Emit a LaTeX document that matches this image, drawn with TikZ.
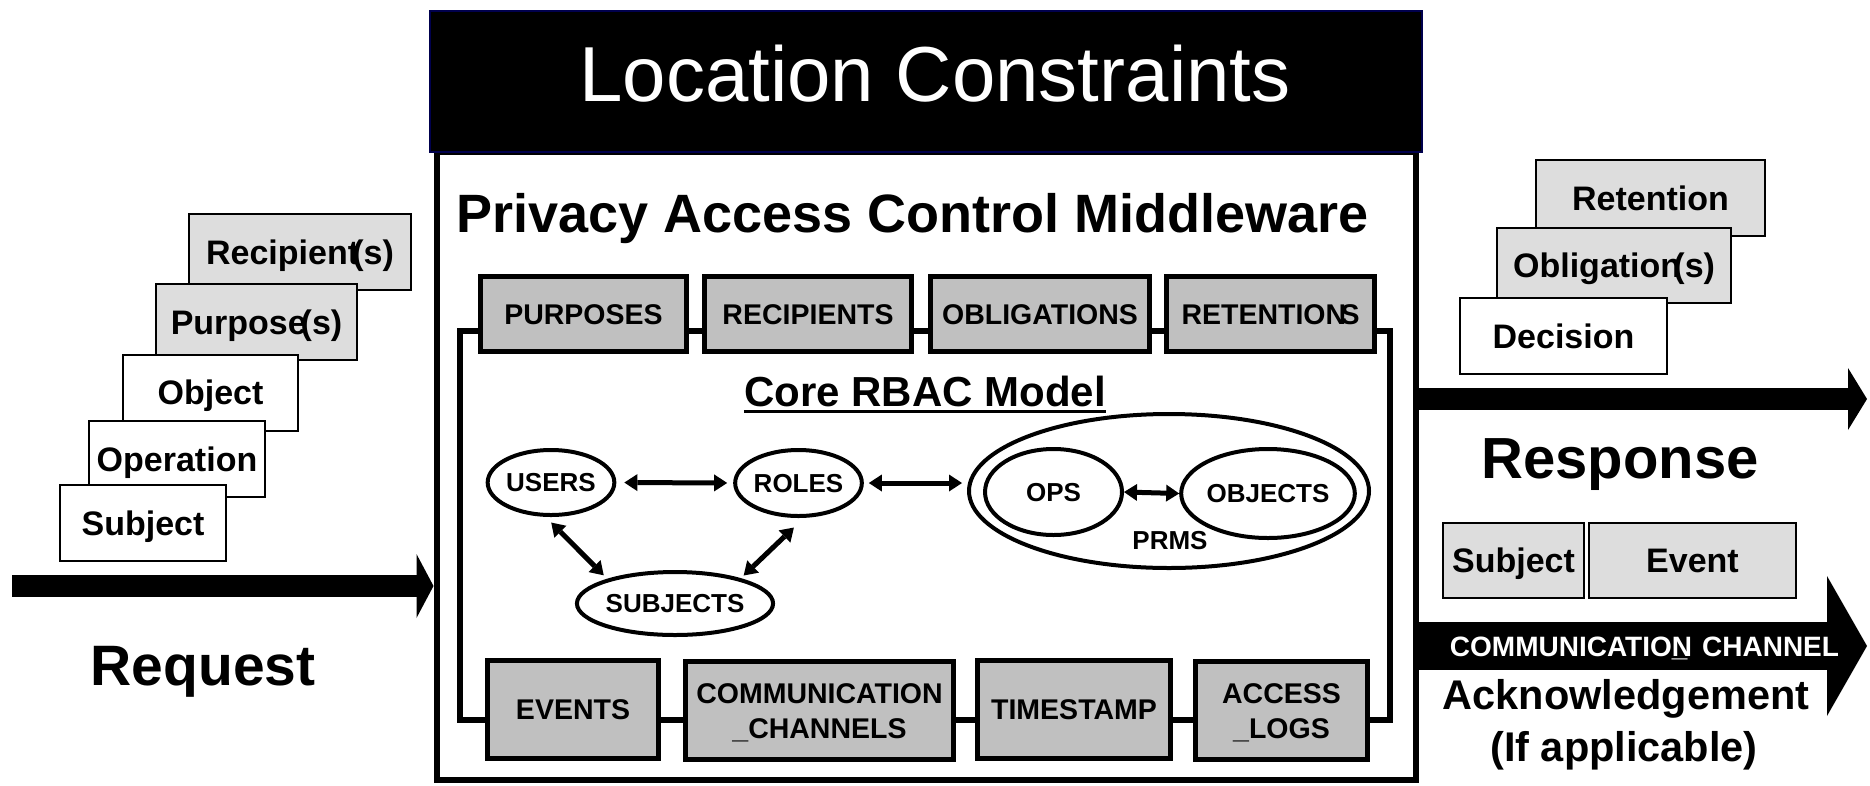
\documentclass[tikz,border=0pt]{standalone}
\usepackage{fontspec}
\setmainfont{Liberation Sans}
\usetikzlibrary{shapes.geometric,arrows.meta,calc}
\newcommand\fsz[1]{\fontsize{#1}{#1}\selectfont}
\definecolor{boxgray}{HTML}{C0C0C0}
\definecolor{cardgray}{HTML}{DDDDDD}
\definecolor{titlenavy}{HTML}{00004D}
\begin{document}
\begin{tikzpicture}[x=1pt,y=-1pt,
  card/.style={draw, line width=2pt, inner sep=0pt, minimum height=76pt,
    font=\bfseries\fsz{34}, text height=24.3pt, text depth=0pt},
  graycard/.style={card, fill=cardgray},
  whitecard/.style={card, fill=white},
  topbox/.style={draw, fill=boxgray, line width=5pt, inner sep=0pt, minimum height=75pt,
    font=\bfseries\fsz{28.5}, text height=20.4pt, text depth=0pt},
  botbox/.style={draw, fill=boxgray, line width=5pt, inner sep=0pt, minimum height=98pt,
    align=center, font=\bfseries\fontsize{28.5}{35}\selectfont, text height=20.4pt, text depth=0pt},
  botbox2/.style={botbox, text height=55.4pt, text depth=0pt},
  ell/.style={ellipse, draw, line width=4pt, inner sep=0pt, fill=white,
    font=\bfseries\fsz{26}, text height=18.6pt, text depth=0pt},
  dbl/.style={line width=5pt,
    {Triangle[length=13pt,width=17pt,line width=0pt]}-{Triangle[length=13pt,width=17pt,line width=0pt]}},
  label/.style={inner sep=0pt, text depth=0pt}
]
\useasboundingbox (0,0) rectangle (1870,785);

% middleware frame
\node[draw, line width=6pt, minimum width=979pt, minimum height=628pt, inner sep=0pt] (main) at (926,466) {};
\node[fill=black, draw=titlenavy, line width=1.5pt, minimum width=992pt, minimum height=141pt, inner sep=0pt] (title) at (926,81.5) {};
\node[label, text=white, font=\fsz{78}, text height=55.8pt] (titletext) at (935,73.5) {Location Constraints};
\node[label, font=\bfseries\fsz{54}, text height=38.7pt] (pacm) at (912.5,213) {Privacy Access Control Middleware};

% inner frame joining the attribute boxes
\node[draw, line width=6pt, minimum width=930pt, minimum height=389.5pt, inner sep=0pt] (frame) at (924.5,525.25) {};

% attribute boxes
\node[topbox, minimum width=206pt] (purposes) at (583.5,314) {PURPOSES};
\node[topbox, minimum width=207pt] (recipients) at (808,314) {RECIPIENTS};
\node[topbox, minimum width=219pt] (obligations) at (1040,314) {OBLIGATIONS};
\node[topbox, minimum width=208pt] (retentions) at (1270.5,314) {RETENTION\kern-.2em S};

\node[botbox, minimum width=171pt] (events) at (573,709.5) {EVENTS};
\node[botbox2, minimum width=268pt] (channels) at (819.5,710.5) {COMMUNICATION\\\_CHANNELS};
\node[botbox, minimum width=193pt] (timestamp) at (1074,709.5) {TIMESTAMP};
\node[botbox2, minimum width=172pt] (logs) at (1281.5,710.5) {ACCESS\\\_LOGS};

% core RBAC model
\node[label, font=\bfseries\fsz{42}, text height=30pt] (core) at (925,391) {Core RBAC Model};
\draw[line width=3pt] ([yshift=-5pt]core.base west) -- ([yshift=-5pt]core.base east);

\node[ell, minimum width=120pt, minimum height=65pt] (users) at (551,482.5) {USERS};
\node[ell, minimum width=115pt, minimum height=66pt] (roles) at (798.5,483) {ROLES};
\node[ell, minimum width=170pt, minimum height=63pt] (subjects) at (675,603.5) {SUBJECTS};
\node[ell, minimum width=400pt, minimum height=154pt] (prms) at (1169,491) {};
\node[ell, minimum width=137pt, minimum height=86pt] (ops) at (1053.5,492) {OPS};
\node[ell, minimum width=148pt, minimum height=89pt] (objects) at (1268,493.5) {OBJECTS};
\node[label, font=\bfseries\fsz{26}, text height=18.6pt] (prmslabel) at (1170,540) {PRMS};

\draw[dbl, shorten <=8pt, shorten >=6pt] (users.east) -- (roles.west);
\draw[dbl, shorten <=5pt, shorten >=5pt] (roles.east) -- (roles.east -| prms.west);
\draw[dbl] (ops.east) -- (objects.west);
\draw[dbl, shorten <=8pt, shorten >=5pt] (users.-99) -- (subjects.160);
\draw[dbl, shorten <=14pt, shorten >=4pt] (roles.-81) -- (subjects.21);

% request side
\node[graycard, minimum width=222pt] (recipient) at (300,252) {Recipient\kern-.2em(s)};
\node[graycard, minimum width=201pt] (purpose) at (256.5,322) {Purpose\kern-.18em(s)};
\node[whitecard, minimum width=175pt] (object) at (210.5,392.5) {Object};
\node[whitecard, minimum width=176pt] (operation) at (177,459) {Operation};
\node[whitecard, minimum width=166pt] (subject) at (143,523) {Subject};

\coordinate (reqtail) at (12,586);
\draw[line width=22pt, -{Triangle[length=17pt,width=64pt,line width=0pt]}] (reqtail) -- (reqtail -| main.west);
\node[label, font=\bfseries\fsz{57}, text height=40.8pt] (request) at (203,664.6) {Request};

% response side
\node[graycard, minimum width=229pt] (retention) at (1650.5,198) {Retention};
\node[graycard, minimum width=234pt, minimum height=75pt] (obligation) at (1614,265.5) {Obligation\kern-.23em(s)};
\node[whitecard, minimum width=207pt] (decision) at (1563.5,336) {Decision};

\coordinate (resptip) at (1867,399);
\draw[line width=22pt, -{Triangle[length=19pt,width=62pt,line width=0pt]}] (main.east |- resptip) -- (resptip);
\node[label, font=\bfseries\fsz{58}, text height=41.5pt] (response) at (1620,458) {Response};

\node[graycard, minimum width=141pt, minimum height=75pt] (respsubject) at (1513.5,560.5) {Subject};
\node[graycard, minimum width=207pt, minimum height=75pt] (respevent) at (1692.5,560.5) {Event};

\coordinate (chantip) at (1867,646);
\draw[line width=48pt, -{Triangle[length=40pt,width=140pt,line width=0pt]}] (main.east |- chantip) -- (chantip);
\node[label, text=white, font=\bfseries\fsz{28}, text height=20pt] (chanlabel) at (1644.5,646)
  {COMMUNICATIO\rlap{\_}N\kern.36em CHANNEL};
\node[label, font=\bfseries\fsz{41.5}, text height=29.7pt] (ack) at (1626,695) {Acknowledgement};
\node[label, font=\bfseries\fsz{41.5}, text height=29.7pt] (ifapp) at (1624,747) {(If applicable)};
\end{tikzpicture}
\end{document}
